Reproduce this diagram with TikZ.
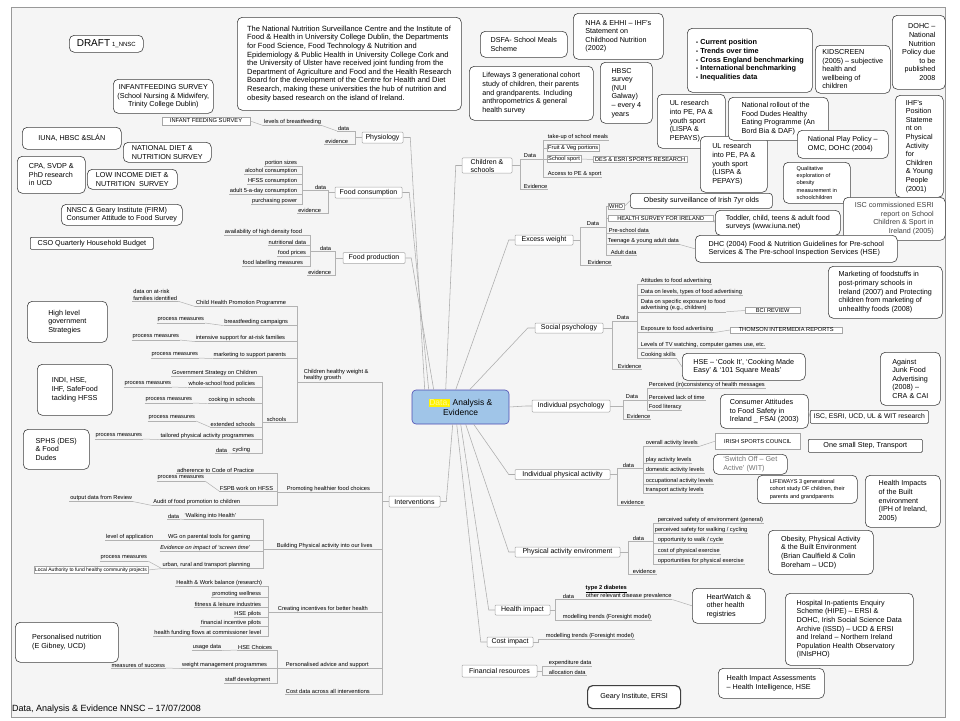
\documentclass[tikz,border=0pt]{standalone}
\usepackage{fontspec}
\setmainfont{Liberation Sans}
\setlength{\fboxsep}{0.6pt}
\newcommand\fsm{\fontsize{5.7}{6.4}\selectfont}
\newcommand\ftp{\fontsize{7}{8}\selectfont}
\newcommand\fnb{\fontsize{7.2}{8.6}\selectfont}
\newcommand\fqs{\fontsize{5.6}{7.4}\selectfont}
\newcommand\brk[3]{\foreach \bt in {#3}{\draw[br] (#1) -- ++(#2,0) |- (\bt);}}
\tikzset{
 cn/.style={draw=gray!65, line width=0.55pt},
 br/.style={draw=gray!60, line width=0.5pt},
 ul/.style={font=\fsm, inner sep=0.7pt, append after command={(\tikzlastnode.south west) edge[br] (\tikzlastnode.south east)}},
 sb/.style={draw=gray!70, fill=white, font=\fsm, inner sep=1pt},
 nb/.style={draw=black!75, fill=white, rounded corners=5pt, line width=0.6pt, font=\fnb, align=left, inner sep=2pt, anchor=north west},
 tp/.style={draw=gray!70, fill=white, rounded corners=1pt, font=\ftp, inner sep=1pt, line width=0.5pt},
 cen/.style={draw=gray!60!blue, fill={rgb,255:red,160;green,197;blue,232}, rounded corners=4pt, minimum width=97, minimum height=34, align=center, font=\fontsize{8.5}{10}\selectfont, line width=0.6pt, inner sep=2pt}
}
\begin{document}
\begin{tikzpicture}[x=1pt,y=-1pt]
\useasboundingbox (0,0) rectangle (960,720);
\fill[white] (0,0) rectangle (960,720);
\fill[black!4] (11,7) rectangle (945,717);
\draw[gray!80, line width=1pt] (11,7) rectangle (945,717);

% ---------- centre ----------
\node[cen] (c) at (460.5,407) {\colorbox{yellow}{\textcolor{yellow!40}{Data,}} Analysis \&\\Evidence};

% ---------- note boxes left ----------
\node[nb, minimum width=74, minimum height=17] (draft) at (69,35) {{\fontsize{10}{12}\selectfont DRAFT}\ {\fontsize{6}{7}\selectfont 1\_NNSC}};
\node[nb, minimum width=224, minimum height=93, font=\fontsize{7.5}{8.6}\selectfont] (nnsc) at (237,17) {The National Nutrition Surveillance Centre and the Institute of\\Food \& Health in University College Dublin, the Departments\\for Food Science, Food Technology \& Nutrition and\\Epidemiology \& Public Health in University College Cork and\\the University of Ulster have received joint funding from the\\Department of Agriculture and Food and the Health Research\\Board for the development of the Centre for Health and Diet\\Research, making these universities the hub of nutrition and\\obesity based research on the island of Ireland.};
\node[nb, minimum width=100, minimum height=34, align=center] (ifsb) at (113,79) {INFANTFEEDING SURVEY\\(School Nursing \& Midwifery,\\Trinity College Dublin)};
\node[nb, minimum width=99, minimum height=22] (iuna) at (22,127) {IUNA, HBSC \&SLÁN};
\node[nb, minimum width=88, minimum height=20] (ndns) at (123,142) {NATIONAL DIET \&\\NUTRITION SURVEY};
\node[nb, minimum width=68, minimum height=37] (cpa) at (17,156) {CPA, SVDP \&\\PhD research\\in UCD};
\node[nb, minimum width=90, minimum height=20] (lidns) at (87,169) {LOW INCOME DIET \&\\NUTRITION\ \ SURVEY};
\node[nb, minimum width=121, minimum height=21] (firm) at (61,204) {NNSC \& Geary Institute (FIRM)\\Consumer Attitude to Food Survey};
\node[nb, rounded corners=1pt, minimum width=123, minimum height=12] (cso) at (30,237) {CSO Quarterly Household Budget};
\node[nb, minimum width=80, minimum height=41] (hlgs) at (27,301) {High level\\government\\Strategies};
\node[nb, minimum width=75, minimum height=51] (indi) at (37,364) {INDI, HSE,\\IHF, SafeFood\\tackling HFSS};
\node[nb, minimum width=66, minimum height=40] (sphs) at (23,429) {SPHS (DES)\\\& Food\\Dudes};
\node[nb, minimum width=103, minimum height=40] (pn) at (15,622) {Personalised nutrition\\(E Gibney, UCD)};

% ---------- note boxes right ----------
\node[nb, minimum width=87, minimum height=26] (dsfa) at (480,31) {DSFA- School Meals\\Scheme};
\node[nb, minimum width=90, minimum height=46] (nha) at (573,13) {NHA \& EHHI -- IHF's\\Statement on\\Childhood Nutrition\\(2002)};
\node[nb, minimum width=124, minimum height=54] (lfw) at (469,66) {Lifeways 3 generational cohort\\study of children, their parents\\and grandparents. Including\\anthropometrics \& general\\health survey};
\node[nb, minimum width=52, minimum height=61] (hbsc) at (600,62) {HBSC\\survey\\(NUI\\Galway)\\-- every 4\\years};
\node[nb, minimum width=68, minimum height=54] (ul1) at (657,94) {UL research\\into PE, PA \&\\youth sport\\(LISPA \&\\PEPAYS)};
\node[nb, minimum width=67, minimum height=56] (ul2) at (700,136) {UL research\\into PE, PA \&\\youth sport\\(LISPA \&\\PEPAYS)};
\node[nb, minimum width=125, minimum height=64, font=\fontsize{7.3}{8.6}\selectfont\bfseries] (cur) at (687,28) {- Current position\\- Trends over time\\- Cross England benchmarking\\- International benchmarking\\- Inequalities data};
\node[nb, minimum width=75, minimum height=48] (kid) at (815,45) {KIDSCREEN\\(2005) -- subjective\\health and\\wellbeing of\\children};
\node[nb, minimum width=53, minimum height=74, align=right] (dohc) at (892,15) {DOHC --\\National\\Nutrition\\Policy due\\to be\\published\\2008};
\node[nb, minimum width=100, minimum height=43] (roll) at (728,97) {National rollout of the\\Food Dudes Healthy\\Eating Programme (An\\Bord Bia \& DAF)};
\node[nb, minimum width=91, minimum height=28] (play) at (797,130) {National Play Policy --\\OMC, DOHC (2004)};
\node[nb, minimum width=48, minimum height=102] (ihf) at (895,95) {IHF's\\Position\\Stateme\\nt on\\Physical\\Activity\\for\\Children\\\& Young\\People\\(2001)};
\node[nb, minimum width=67, minimum height=41, font=\fqs] (qual) at (783,162) {Qualitative\\exploration of\\obesity\\measurement in\\schoolchildren};
\node[nb, minimum width=102, minimum height=43, align=right, text=black!75] (isc) at (843,197) {ISC commissioned ESRI\\report on School\\Children \& Sport in\\Ireland (2005)};
\node[nb, minimum width=142, minimum height=15, rounded corners=3pt] (obes) at (630,193) {Obesity surveillance of Irish 7yr olds};
\node[nb, minimum width=125, minimum height=25] (toddler) at (715,210) {Toddler, child, teens \& adult food\\surveys (www.iuna.net)};
\node[nb, minimum width=202, minimum height=27] (dhc) at (695,235) {DHC (2004) Food \& Nutrition Guidelines for Pre-school\\Services \& The Pre-school Inspection Services (HSE)};
\node[nb, minimum width=123, minimum height=27] (hsecook) at (682,353) {HSE -- `Cook It', `Cooking Made\\Easy' \& `101 Square Meals'};
\node[nb, minimum width=114, minimum height=52] (mkt) at (828,266) {Marketing of foodstuffs in\\post-primary schools in\\Ireland (2007) and Protecting\\children from marketing of\\unhealthy foods (2008)};
\node[nb, minimum width=60, minimum height=53] (junk) at (880,352) {Against\\Junk Food\\Advertising\\(2008) --\\CRA \& CAI};
\node[nb, minimum width=88, minimum height=34] (cons) at (720,394) {Consumer Attitudes\\to Food Safety in\\Ireland \_ FSAI (2003)};
\node[nb, rounded corners=1pt, minimum width=118, minimum height=13, font=\fontsize{6.8}{8}\selectfont] (iscr) at (810,410) {ISC, ESRI, UCD, UL \& WIT research};
\node[sb, anchor=north west, minimum width=85, minimum height=16] (irish) at (715,433) {IRISH SPORTS COUNCIL};
\node[nb, rounded corners=1pt, minimum width=114, minimum height=13] (onestep) at (808,439) {One small Step, Transport};
\node[nb, minimum width=74, minimum height=20, text=black!55] (switch) at (713,454) {`Switch Off -- Get\\Active' (WIT)};
\node[nb, minimum width=100, minimum height=28, font=\fqs] (lfw2) at (757,475) {LIFEWAYS 3 generational\\cohort study OF children, their\\parents and grandparents};
\node[nb, minimum width=75, minimum height=52] (hibe) at (865,475) {Health Impacts\\of the Built\\environment\\(IPH of Ireland,\\2005)};
\node[nb, minimum width=105, minimum height=44] (opabe) at (768,530) {Obesity, Physical Activity\\\& the Built Environment\\(Brian Caulfield \& Colin\\Boreham -- UCD)};
\node[nb, minimum width=73, minimum height=35] (heart) at (692,588) {HeartWatch \&\\other health\\registries};
\node[nb, minimum width=128, minimum height=72] (hipe) at (785,593) {Hospital In-patients Enquiry\\Scheme (HIPE) -- ERSI \&\\DOHC, Irish Social Science Data\\Archive (ISSD) -- UCD \& ERSI\\and Ireland -- Northern Ireland\\Population Health Observatory\\(INIsPHO)};
\node[nb, minimum width=93, minimum height=23, line width=1.2pt, align=center] (geary) at (587,685) {Geary Institute, ERSI};
\node[nb, minimum width=106, minimum height=30] (hia) at (718,668) {Health Impact Assessments\\-- Health Intelligence, HSE};

\node[anchor=west, font=\fontsize{9}{10}\selectfont, inner sep=0pt] (foot) at (12,709) {Data,\ Analysis\ \&\ Evidence\ NNSC -- 17/07/2008};

% ---------- Physiology ----------
\node[tp, minimum width=41, minimum height=11] (phys) at (382.5,137.5) {Physiology};
\node[ul, anchor=east] (d1) at (350,128) {data};
\node[ul, anchor=east] (ev1) at (349,141) {evidence};
\node[ul, anchor=east] (lb1) at (322,122) {levels of breastfeeding};
\node[sb, minimum width=88, minimum height=8] (ifs) at (206,121) {INFANT FEEDING SURVEY};
\draw[br] (ifs.east) -- (lb1.south west);
\draw[br] (lb1.south east) -- (d1.south west);
\brk{phys.west}{-7}{d1.south east, ev1.south east}

% ---------- Food consumption ----------
\node[tp, minimum width=67, minimum height=11] (fcons) at (368.5,192.5) {Food consumption};
\node[ul, anchor=east] (fcd) at (327,187) {data};
\node[ul, anchor=east] (fcev) at (322,210) {evidence};
\node[ul, anchor=east] (ps) at (298,163) {portion sizes};
\node[ul, anchor=east] (alc) at (298,171) {alcohol consumption};
\node[ul, anchor=east] (hfss) at (298,181) {HFSS consumption};
\node[ul, anchor=east] (a5) at (298,191) {adult 5-a-day consumption};
\node[ul, anchor=east] (pp) at (298,201) {purchasing power};
\brk{fcd.south west}{-12}{ps.south east, alc.south east, hfss.south east, a5.south east, pp.south east}
\brk{fcons.west}{-7}{fcd.south east, fcev.south east}

% ---------- Food production ----------
\node[tp, minimum width=62, minimum height=11] (fprod) at (374,258) {Food production};
\node[ul, anchor=east] (fpd) at (332,248) {data};
\node[ul, anchor=east] (fpev) at (332,272) {evidence};
\node[ul, anchor=east] (ahd) at (303,232) {availability of high density food};
\node[ul, anchor=east] (nd) at (307,242) {nutritional data};
\node[ul, anchor=east] (fpr) at (307,253) {food prices};
\node[ul, anchor=east] (flm) at (304,263) {food labelling measures};
\brk{fpd.south west}{-9}{ahd.south east, nd.south east, fpr.south east, flm.south east}
\brk{fprod.west}{-8}{fpd.south east, fpev.south east}

% ---------- Interventions ----------
\node[tp, minimum width=51, minimum height=11] (interv) at (414.5,501.5) {Interventions};
\node[ul, anchor=west, align=left] (chw) at (303,375) {Children healthy weight \&\\healthy growth};
\node[ul, anchor=west] (phfc) at (286,489) {Promoting healthier food choices};
\node[ul, anchor=west] (bpa) at (276,546) {Building Physical activity into our lives};
\node[ul, anchor=west] (cib) at (277,609) {Creating incentives for better health};
\node[ul, anchor=west] (pas) at (285,665) {Personalised advice and support};
\node[ul, anchor=west] (cdi) at (285,691) {Cost data across all interventions};
\brk{interv.west}{-7}{chw.south east, phfc.south east, bpa.south east, cib.south east, pas.south east, cdi.south east}

\node[ul, anchor=east] (chpp) at (287,303) {Child Health Promotion Programme};
\node[ul, anchor=east, align=left] (daf) at (178,295) {data on at-risk\\families identified};
\node[ul, anchor=east] (bfc) at (289,322) {breastfeeding campaigns};
\node[ul, anchor=east] (pm1) at (205,320) {process measures};
\node[ul, anchor=east] (isf) at (286,338) {intensive support for at-risk families};
\node[ul, anchor=east] (pm2) at (180,337) {process measures};
\node[ul, anchor=east] (msp) at (287,355) {marketing to support parents};
\node[ul, anchor=east] (pm3) at (199,355) {process measures};
\node[ul, anchor=east] (sch) at (287,419) {schools};
\draw[br] (chpp.south west) -- (daf.south east);
\draw[br] (bfc.south west) -- (pm1.south east);
\draw[br] (isf.south west) -- (pm2.south east);
\draw[br] (msp.south west) -- (pm3.south east);
\brk{chw.south west}{-6}{chpp.south east, bfc.south east, isf.south east, msp.south east, sch.south east}

\node[ul, anchor=east] (gsc) at (258,373) {Government Strategy on Children};
\node[ul, anchor=east] (wsf) at (256,384) {whole-school food policies};
\node[ul, anchor=east] (pm4) at (172,384) {process measures};
\node[ul, anchor=east] (cis) at (256,400) {cooking in schools};
\node[ul, anchor=east] (pm5) at (193,400) {process measures};
\node[ul, anchor=east] (exs) at (256,424) {extended schools};
\node[ul, anchor=east] (pm6) at (196,418) {process measures};
\node[ul, anchor=east] (tpa) at (255,436) {tailored physical activity programmes};
\node[ul, anchor=east] (pm7) at (143,436) {process measures};
\node[ul, anchor=east] (cyc) at (251,450) {cycling};
\node[ul, anchor=east] (dcy) at (228,450) {data};
\draw[br] (wsf.south west) -- (pm4.south east);
\draw[br] (cis.south west) -- (pm5.south east);
\draw[br] (exs.south west) -- (pm6.south east);
\draw[br] (tpa.south west) -- (pm7.south east);
\draw[br] (cyc.south west) -- (dcy.south east);
\brk{sch.south west}{-4}{gsc.south east, wsf.south east, cis.south east, exs.south east, tpa.south east, cyc.south east}

\node[ul, anchor=east] (acp) at (255,470) {adherence to Code of Practice};
\node[ul, anchor=east] (fspb) at (274,488) {FSPB work on HFSS};
\node[ul, anchor=east] (pm8) at (205,478) {process measures};
\node[ul, anchor=east] (afp) at (241,502) {Audit of food promotion to children};
\node[ul, anchor=east] (odr) at (133,498) {output data from Review};
\draw[br] (fspb.south west) -- (pm8.south east);
\draw[br] (afp.south west) -- (odr.south east);
\brk{phfc.south west}{-9}{acp.south east, fspb.south east, afp.south east}

\node[ul, anchor=east] (wih) at (237,516) {`Walking into Health'};
\node[ul, anchor=east] (dwh) at (180,516) {data};
\node[ul, anchor=east] (wgp) at (251,537) {WG on parental tools for gaming};
\node[ul, anchor=east] (loa) at (154,537) {level of application};
\node[ul, anchor=east, font=\fsm\itshape] (eis) at (251,548) {Evidence on impact of `screen time'};
\node[ul, anchor=east] (urt) at (251,565) {urban, rural and transport planning};
\node[ul, anchor=east] (pm9) at (148,558) {process measures};
\node[sb, anchor=east, font=\fontsize{5}{6}\selectfont] (la) at (148,570) {Local Authority to fund healthy community projects};
\draw[br] (wih.south west) -- (dwh.south east);
\draw[br] (wgp.south west) -- (loa.south east);
\draw[br] (urt.south west) -- (pm9.south east);
\draw[br] (urt.south west) -- (la.east);
\brk{bpa.south west}{-13}{wih.south east, wgp.south east, eis.south east, urt.south east}

\node[ul, anchor=east] (hwb) at (263,583) {Health \& Work balance (research)};
\node[ul, anchor=east] (pw) at (262,594) {promoting wellness};
\node[ul, anchor=east] (fli) at (262,604) {fitness \& leisure industries};
\node[ul, anchor=east] (hsep) at (262,614) {HSE pilots};
\node[ul, anchor=east] (fip) at (262,623) {financial incentive pilots};
\node[ul, anchor=east] (hff) at (262,633) {health funding flows at commissioner level};
\brk{cib.south west}{-9}{hwb.south east, pw.south east, fli.south east, hsep.south east, fip.south east, hff.south east}

\node[ul, anchor=east] (hsec) at (273,647) {HSE Choices};
\node[ul, anchor=east] (ud) at (222,647) {usage data};
\node[ul, anchor=east] (wmp) at (268,665) {weight management programmes};
\node[ul, anchor=east] (mos) at (166,665) {measures of success};
\node[ul, anchor=east] (sd) at (271,680) {staff development};
\draw[br] (hsec.south west) -- (ud.south east);
\draw[br] (wmp.south west) -- (mos.south east);
\brk{pas.south west}{-8}{hsec.south east, wmp.south east, sd.south east}

% ---------- Children & schools ----------
\node[tp, minimum width=50, minimum height=15, align=left] (chsch) at (487,165.5) {Children \&\\schools};
\node[ul, anchor=west] (csd) at (523,156) {Data};
\node[ul, anchor=west] (cse) at (523,186) {Evidence};
\brk{chsch.east}{8}{csd.south west, cse.south west}
\node[ul, anchor=west] (tum) at (547,137) {take-up of school meals};
\node[sb, anchor=west] (fvp) at (547,148) {Fruit \& Veg portions};
\node[sb, anchor=west] (ssp) at (547,159) {School sport};
\node[sb, anchor=west, minimum width=94] (des) at (593,159.5) {DES \& ESRI SPORTS RESEARCH};
\node[ul, anchor=west] (ape) at (547,174) {Access to PE \& sport};
\draw[br] (ssp.east) -- (des.west);
\brk{csd.south east}{6}{tum.south west, fvp.west, ssp.west, ape.south west}

% ---------- Excess weight ----------
\node[tp, minimum width=58, minimum height=10] (exw) at (544,240) {Excess weight};
\node[ul, anchor=west] (ewd) at (586,224) {Data};
\node[ul, anchor=west] (ewe) at (587,262) {Evidence};
\brk{exw.east}{7}{ewd.south west, ewe.south west}
\node[sb, anchor=west] (who) at (608,206.5) {WHO};
\node[sb, anchor=west, minimum width=105] (hsi) at (608,218.5) {HEALTH SURVEY FOR IRELAND};
\node[ul, anchor=west] (psd) at (608,230) {Pre-school data};
\node[ul, anchor=west] (tya) at (607,241) {Teenage \& young adult data};
\node[ul, anchor=west] (ad) at (610,252) {Adult data};
\brk{ewd.south east}{6}{who.west, hsi.west, psd.south west, tya.south west, ad.south west}
\draw[br] (who.east) -- (obes.west);
\draw[br] (hsi.east) -- (toddler.west);
\draw[br] (tya.south east) -- (dhc.west);

% ---------- Social psychology ----------
\node[tp, minimum width=68, minimum height=10] (socp) at (569,328) {Social psychology};
\node[ul, anchor=west] (spd) at (616,318) {Data};
\node[ul, anchor=west] (spe) at (617,366) {Evidence};
\brk{socp.east}{9}{spd.south west, spe.south west}
\node[ul, anchor=west] (atf) at (640,281) {Attitudes to food advertising};
\node[ul, anchor=west] (dlt) at (640,292) {Data on levels, types of food advertising};
\node[ul, anchor=west, align=left] (dse) at (640,305) {Data on specific exposure to food\\advertising (e.g., children)};
\node[ul, anchor=west] (efa) at (640,329) {Exposure to food advertising};
\node[ul, anchor=west] (ltv) at (640,345) {Levels of TV watching, computer games use, etc.};
\node[ul, anchor=west] (cks) at (640,355) {Cooking skills};
\brk{spd.south east}{7}{atf.south west, dlt.south west, dse.south west, efa.south west, ltv.south west, cks.south west}
\node[sb, minimum width=55, anchor=west] (bci) at (745,310.5) {BCI REVIEW};
\node[sb, minimum width=112, anchor=west] (thom) at (730,330) {THOMSON INTERMEDIA REPORTS};
\draw[br] (dse.south east) -- (bci.west);
\draw[br] (efa.south east) -- (thom.west);
\draw[br] (cks.south east) -- (hsecook.west);

% ---------- Individual psychology ----------
\node[tp, minimum width=78, minimum height=12] (indp) at (571,406) {Individual psychology};
\node[ul, anchor=west] (ipd) at (625,397) {Data};
\node[ul, anchor=west] (ipe) at (626,416) {Evidence};
\brk{indp.east}{13}{ipd.south west, ipe.south west}
\node[ul, anchor=west] (pic) at (648,385) {Perceived (in)consistency of health messages};
\node[ul, anchor=west] (plt) at (648,397) {Perceived lack of time};
\node[ul, anchor=west] (fl) at (648,407) {Food literacy};
\brk{ipd.south east}{8}{pic.south west, plt.south west, fl.south west}
\draw[br] (cons.east) -- (iscr.west);

% ---------- Individual physical activity ----------
\node[tp, minimum width=95, minimum height=10] (ipa) at (562.5,474.5) {Individual physical activity};
\node[ul, anchor=west] (ipad) at (622,465) {data};
\node[ul, anchor=west] (ipae) at (620,502) {evidence};
\brk{ipa.east}{7}{ipad.south west, ipae.south west}
\node[ul, anchor=west] (oal) at (645,443) {overall activity levels};
\node[ul, anchor=west] (pal) at (645,460) {play activity levels};
\node[ul, anchor=west] (dal) at (645,470) {domestic activity levels};
\node[ul, anchor=west] (ocal) at (645,481) {occupational activity levels};
\node[ul, anchor=west] (tal) at (645,490) {transport activity levels};
\brk{ipad.south east}{8}{oal.south west, pal.south west, dal.south west, ocal.south west, tal.south west}
\draw[br] (oal.south east) -- (irish.west);

% ---------- Physical activity environment ----------
\node[tp, minimum width=105, minimum height=10] (pae) at (567.5,552) {Physical activity environment};
\node[ul, anchor=west] (paed) at (632,538) {data};
\node[ul, anchor=west] (paee) at (632,571) {evidence};
\brk{pae.east}{8}{paed.south west, paee.south west}
\node[ul, anchor=west] (pse) at (657,520) {perceived safety of environment (general)};
\node[ul, anchor=west] (psw) at (654,530) {perceived safety for walking / cycling};
\node[ul, anchor=west] (owc) at (657,540) {opportunity to walk / cycle};
\node[ul, anchor=west] (cpe) at (657,551) {cost of physical exercise};
\node[ul, anchor=west] (ope) at (657,561) {opportunities for physical exercise};
\brk{paed.south east}{8}{pse.south west, psw.south west, owc.south west, cpe.south west, ope.south west}

% ---------- Health impact ----------
\node[tp, minimum width=55, minimum height=10] (himp) at (522.5,610) {Health impact};
\node[ul, anchor=west] (hid) at (562,596) {data};
\node[ul, anchor=west] (hmt) at (562,617) {modelling trends (Foresight model)};
\brk{himp.east}{5}{hid.south west, hmt.south west}
\node[font=\fsm\bfseries, inner sep=0.5pt, anchor=west] (t2d) at (585,589) {\underline{type 2 diabetes}};
\node[ul, anchor=west] (ord) at (585,596) {other relevant disease prevalence};
\draw[br] (hid.south east) -- ++(6,0) |- (ord.south west);
\draw[br] (ord.south east) -- (heart.west);

% ---------- Cost impact ----------
\node[tp, minimum width=46, minimum height=10] (cimp) at (510,642) {Cost impact};
\node[ul, anchor=west] (cmt) at (545,636) {modelling trends (Foresight model)};
\draw[br] (cimp.east) -- ++(5,0) |- (cmt.south west);

% ---------- Financial resources ----------
\node[tp, minimum width=75, minimum height=12] (finr) at (499.5,671) {Financial resources};
\node[ul, anchor=west] (exd) at (548,663) {expenditure data};
\node[ul, anchor=west] (ald) at (548,672) {allocation data};
\brk{finr.east}{5}{exd.south west, ald.south west}

% ---------- centre connectors ----------
\draw[cn] ([xshift=13pt]c.north west) -- ([xshift=7pt]phys.east) -- (phys.east);
\draw[cn] ([xshift=17pt]c.north west) -- ([xshift=7pt]fcons.east) -- (fcons.east);
\draw[cn] ([xshift=22pt]c.north west) -- ([xshift=6pt]fprod.east) -- (fprod.east);
\draw[cn] ([xshift=34pt]c.north west) -- ([xshift=-6pt]chsch.west) -- (chsch.west);
\draw[cn] ([xshift=44pt]c.north west) -- ([xshift=-6pt]exw.west) -- (exw.west);
\draw[cn] ([xshift=58pt]c.north west) -- ([xshift=-7pt]socp.west) -- (socp.west);
\draw[cn] (c.east) -- ([xshift=-6pt]indp.west) -- (indp.west);
\draw[cn] ([xshift=62pt]c.south west) -- ([xshift=-6pt]ipa.west) -- (ipa.west);
\draw[cn] ([xshift=54pt]c.south west) -- ([xshift=-6pt]pae.west) -- (pae.west);
\draw[cn] ([xshift=49pt]c.south west) -- ([xshift=-6pt]himp.west) -- (himp.west);
\draw[cn] ([xshift=45pt]c.south west) -- ([xshift=-6pt]cimp.west) -- (cimp.west);
\draw[cn] ([xshift=41pt]c.south west) -- ([xshift=6pt]interv.east) -- (interv.east);
\end{tikzpicture}
\end{document}
